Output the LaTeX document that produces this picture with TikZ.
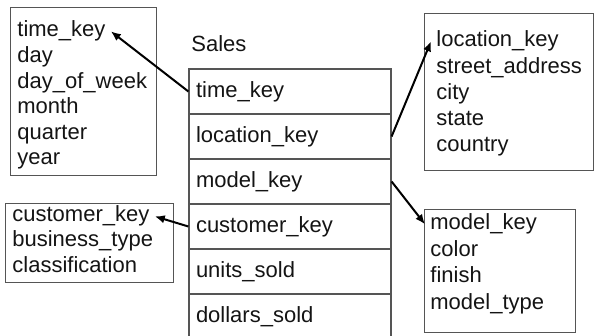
\documentclass[tikz,border=0pt]{standalone}
\usepackage{fontspec}
\setmainfont{Liberation Sans}
\usetikzlibrary{arrows.meta}
\definecolor{frame}{RGB}{85,85,85}
\definecolor{ink}{RGB}{20,20,20}

\begin{document}
\begin{tikzpicture}[x=0.5pt, y=-0.5pt,
    tbl/.style={draw=frame, line width=0.6pt, inner sep=0pt, anchor=north west},
    row/.style={draw=frame, line width=0.6pt, minimum height=22.5pt,
                inner xsep=3.5pt, inner ysep=0pt, text width=94pt, align=left,
                text height=8pt, text depth=2.3pt, text=ink,
                font=\fontsize{11}{13}\selectfont},
    fld/.style={anchor=base west, inner sep=2.5pt, text=ink,
                font=\fontsize{11}{13}\selectfont},
    ref/.style={-{Latex[length=5pt,width=4.2pt]}, line width=1pt}]
  \useasboundingbox (0,0) rectangle (594,336);

  % ---------- fact table -------------------------------------------------
  \node[fld] (salesLab) at (186,52) {Sales};
  \foreach \f [count=\i] in {time\_key,location\_key,model\_key,customer\_key,units\_sold,dollars\_sold}
    \node[row] (s\i) at (290,{69+45*\i-22.5}) {\f};

  % ---------- time -------------------------------------------------------
  \node[tbl, minimum width=73pt, minimum height=84pt] (timeBox) at (10,7) {};
  \foreach \f [count=\i from 0] in {time\_key,day,day\_of\_week,month,quarter,year}
    \node[fld] (t\i) at (12,{37+25.6*\i}) {\f};

  % ---------- location ---------------------------------------------------
  \node[tbl, minimum width=84.5pt, minimum height=78.5pt] (locBox) at (424,13) {};
  \foreach \f [count=\i from 0] in {location\_key,street\_address,city,state,country}
    \node[fld] (l\i) at (431,{47+26.2*\i}) {\f};

  % ---------- model ------------------------------------------------------
  \node[tbl, minimum width=75.5pt, minimum height=61.5pt] (modBox) at (424,209) {};
  \foreach \f [count=\i from 0] in {model\_key,color,finish,model\_type}
    \node[fld] (m\i) at (425,{230+26.5*\i}) {\f};

  % ---------- customer ---------------------------------------------------
  \node[tbl, minimum width=84pt, minimum height=39.5pt] (custBox) at (5,203) {};
  \foreach \f [count=\i from 0] in {customer\_key,business\_type,classification}
    \node[fld] (c\i) at (7,{222+25*\i}) {\f};

  % ---------- keys -------------------------------------------------------
  \draw[ref] (s1.west) -- (t0.east);
  \draw[ref] (s2.east) -- (l0.west);
  \draw[ref] (s3.east) -- (m0.west);
  \draw[ref] (s4.west) -- (c0.east);
\end{tikzpicture}
\end{document}
